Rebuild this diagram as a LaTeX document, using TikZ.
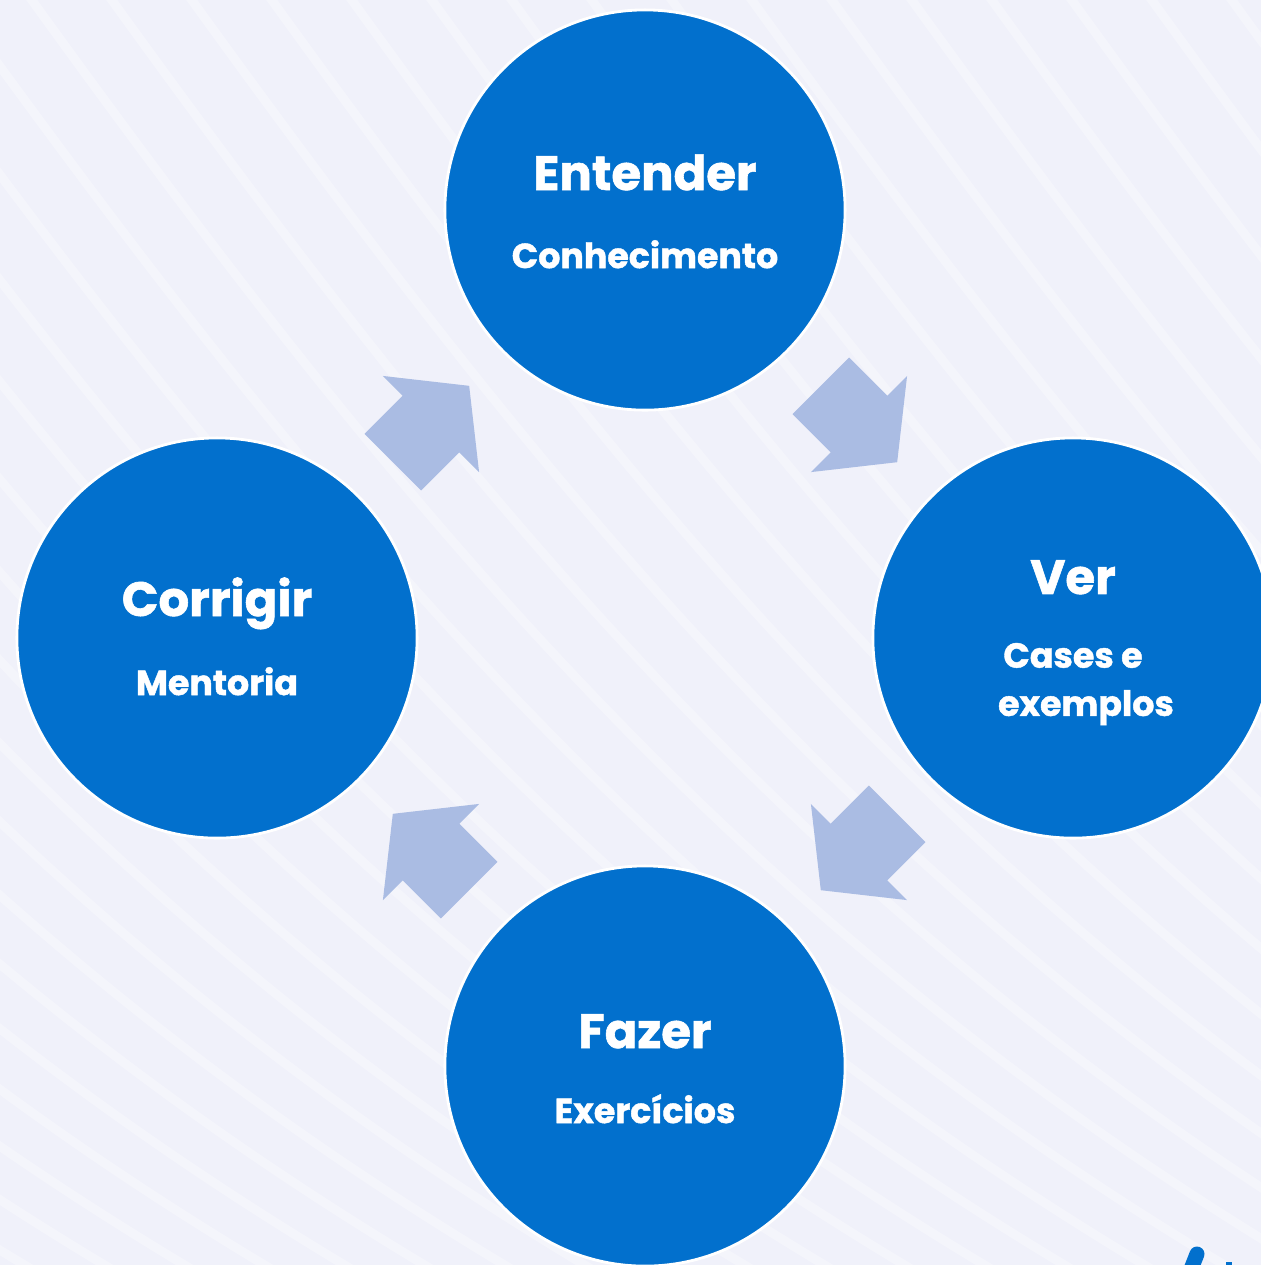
\documentclass[tikz,border=0pt]{standalone}
\usepackage{fontspec}
\setmainfont{Poppins}[BoldFeatures={FakeBold=1.2}]
\usepackage{tikz}
\usetikzlibrary{calc,positioning}
\definecolor{mybg}{RGB}{240,241,250}
\definecolor{myblue}{RGB}{2,112,205}
\definecolor{myarrow}{RGB}{170,188,227}
\tikzstyle{stage}=[circle, fill=myblue, draw=white, line width=0.8pt, minimum size=4cm, inner sep=0pt]
\tikzstyle{stagetitle}=[text=white, anchor=base, inner sep=0pt, font=\bfseries\fontsize{13.7}{16}\selectfont]
\tikzstyle{stagesub}=[text=white, align=center, inner sep=0pt, font=\bfseries\fontsize{9.9}{13.7}\selectfont]
\newcommand{\cyclearrow}[2]{%
	% midpoint, direction angle
	\fill[myarrow, shift={(#1)}, rotate=#2]
	(-54,-40) -- (0,-40) -- (0,-68) -- (54,0)
	-- (0,68) -- (0,40) -- (-54,40) -- cycle;
}

\begin{document}
\begin{tikzpicture}[x=0.01cm, y=-0.01cm]
	\useasboundingbox (0,0) rectangle (1261,1265);
	\clip (0,0) rectangle (1261,1265);
	\fill[mybg] (0,0) rectangle (1261,1265);
	% faint stripes in the background
	\foreach \s in {-1800,-1720,...,1300}
		\draw[white, opacity=0.3, line width=0.09cm]
		(\s,-100) .. controls (\s+500,600) and (\s+900,1100) .. (\s+1800,1500);
	
	\node[stage] (ent) at (645,210) {};
	\node[stage] (ver) at (1073,638) {};
	\node[stage] (faz) at (645,1066) {};
	\node[stage] (cor) at (217,638) {};
	
	\node[stagetitle] (ent-t) at ([yshift=0.20cm]ent.center) {Entender};
	\node[stagesub, anchor=base] (ent-s) at ([yshift=-0.58cm]ent.center) {Conhecimento};
	\node[stagetitle] (ver-t) at ([yshift=0.44cm]ver.center) {Ver};
	\node[stagesub] (ver-s) at ([yshift=-0.46cm]ver.center) {Cases e\\\hspace*{2.6mm}exemplos};
	\node[stagetitle] (faz-t) at ([yshift=0.18cm]faz.center) {Fazer};
	\node[stagesub, anchor=base] (faz-s) at ([yshift=-0.57cm]faz.center) {Exercícios};
	\node[stagetitle] (cor-t) at ([yshift=0.22cm]cor.center) {Corrigir};
	\node[stagesub, anchor=base] (cor-s) at ([yshift=-0.57cm]cor.center) {Mentoria};
	
	\coordinate (a1) at ($(ent)!0.5!(ver)$);
	\coordinate (a2) at ($(ver)!0.5!(faz)$);
	\coordinate (a3) at ($(faz)!0.5!(cor)$);
	\coordinate (a4) at ($(cor)!0.5!(ent)$);
	\cyclearrow{a1}{-45}
	\cyclearrow{a2}{-135}
	\cyclearrow{a3}{135}
	\cyclearrow{a4}{45}
	
	% cut off mark in the corner
	\draw[myblue, line width=0.15cm, line cap=round] (1197,1254) -- (1186,1282);
	\draw[myblue, line width=0.05cm] (1229,1262) -- (1229,1270);
\end{tikzpicture}
\end{document}
